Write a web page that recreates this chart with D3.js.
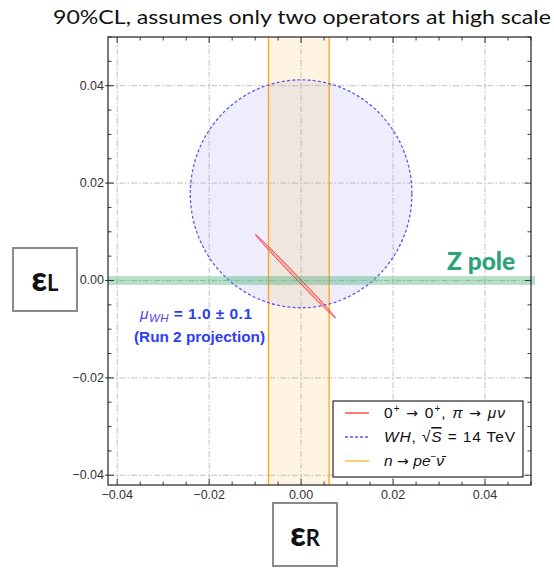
<!DOCTYPE html>
<html>
<head>
<meta charset="utf-8">
<script src="https://cdn.jsdelivr.net/npm/d3@7"></script>
<style>
  html, body { margin: 0; padding: 0; background: #fff; }
  svg { display: block; }
</style>
</head>
<body>
<svg id="chart" width="554" height="568"></svg>
<script>
// Axis domains (epsilon_R horizontal, epsilon_L vertical)
const xDomain = [-0.042, 0.05];
const yDomain = [-0.042, 0.05];
const majorTicks = [-0.04, -0.02, 0.00, 0.02, 0.04];
const minorStep = 0.005;
const tickLabels = ["\u22120.04", "\u22120.02", "0.00", "0.02", "0.04"];

// Neutron decay band in epsilon_R
const neutronBand = [-0.0071, 0.0061];
// Z-pole band in epsilon_L
const zPoleBand = [-0.0009, 0.0009];
// WH projection region: centre and semi-axes
const whCenter = [0.0, 0.0178];
const whRadii = [0.0241, 0.0234];
// Superallowed / pion constraint: end points of the thin ellipse
const betaEnds = [[-0.0099, 0.0094], [0.0075, -0.0077]];

const svg = d3.select("#chart");
const x = d3.scaleLinear().domain(xDomain).range([108, 531]);
const y = d3.scaleLinear().domain(yDomain).range([485, 37]);
const [x0, x1] = x.range();
const [y0, y1] = y.range();

const sans = "'Liberation Sans', Arial, Helvetica, sans-serif";
const arrowFont = "'DejaVu Sans', sans-serif";

// Title
svg.append("text")
  .attr("x", 53).attr("y", 24)
  .attr("textLength", 498).attr("lengthAdjust", "spacingAndGlyphs")
  .style("font-family", "Lato, 'Open Sans', sans-serif")
  .style("font-size", "20px").style("fill", "#111")
  .text("90%CL, assumes only two operators at high scale");

const plot = svg.append("g");
const clipId = "plotclip";
svg.append("defs").append("clipPath").attr("id", clipId)
  .append("rect").attr("x", x0).attr("y", y1).attr("width", x1 - x0).attr("height", y0 - y1);

const inner = plot.append("g").attr("clip-path", `url(#${clipId})`);

// WH region
inner.append("ellipse")
  .attr("cx", x(whCenter[0])).attr("cy", y(whCenter[1]))
  .attr("rx", x(whCenter[0] + whRadii[0]) - x(whCenter[0]))
  .attr("ry", y(whCenter[1]) - y(whCenter[1] + whRadii[1]))
  .attr("fill", "rgba(110,110,235,0.12)");

// Neutron band
inner.append("rect")
  .attr("x", x(neutronBand[0])).attr("y", y1)
  .attr("width", x(neutronBand[1]) - x(neutronBand[0])).attr("height", y0 - y1)
  .attr("fill", "rgba(255,185,70,0.16)");

// Grid lines
const grid = inner.append("g")
  .attr("stroke", "#b8b8b8").attr("stroke-width", 0.9)
  .attr("stroke-dasharray", "6,2,1.5,2").attr("fill", "none");
majorTicks.forEach(t => {
  grid.append("line").attr("x1", x(t)).attr("x2", x(t)).attr("y1", y1).attr("y2", y0);
  grid.append("line").attr("y1", y(t)).attr("y2", y(t)).attr("x1", x0).attr("x2", x1);
});

// Neutron band edges
neutronBand.forEach(v => {
  inner.append("line").attr("x1", x(v)).attr("x2", x(v)).attr("y1", y1).attr("y2", y0)
    .attr("stroke", "#ffa31a").attr("stroke-width", 1.3);
});

// WH boundary
inner.append("ellipse")
  .attr("cx", x(whCenter[0])).attr("cy", y(whCenter[1]))
  .attr("rx", x(whCenter[0] + whRadii[0]) - x(whCenter[0]))
  .attr("ry", y(whCenter[1]) - y(whCenter[1] + whRadii[1]))
  .attr("fill", "none").attr("stroke", "#5a5af0").attr("stroke-width", 1.3)
  .attr("stroke-dasharray", "3,2.2");

// Thin beta-decay ellipse
{
  const A = [x(betaEnds[0][0]), y(betaEnds[0][1])];
  const B = [x(betaEnds[1][0]), y(betaEnds[1][1])];
  const c = [(A[0] + B[0]) / 2, (A[1] + B[1]) / 2];
  const u = [(B[0] - A[0]) / 2, (B[1] - A[1]) / 2];
  const len = Math.hypot(u[0], u[1]);
  const hw = 1.5;
  const v = [-u[1] / len * hw, u[0] / len * hw];
  const pts = d3.range(0, 2 * Math.PI, Math.PI / 90).map(t =>
    [c[0] + Math.cos(t) * u[0] + Math.sin(t) * v[0], c[1] + Math.cos(t) * u[1] + Math.sin(t) * v[1]]);
  inner.append("path")
    .attr("d", d3.line().curve(d3.curveLinearClosed)(pts))
    .attr("fill", "rgba(255,110,110,0.35)").attr("stroke", "#ff2a2a").attr("stroke-width", 1);
}

// Z pole band (runs slightly past the frame)
plot.append("rect")
  .attr("x", x0).attr("y", y(zPoleBand[1]))
  .attr("width", x1 - x0 + 4).attr("height", y(zPoleBand[0]) - y(zPoleBand[1]))
  .attr("fill", "rgba(70,175,115,0.4)");

// Frame
plot.append("rect")
  .attr("x", x0).attr("y", y1).attr("width", x1 - x0).attr("height", y0 - y1)
  .attr("fill", "none").attr("stroke", "#222").attr("stroke-width", 1.2);

// Ticks on all four sides
const minorTicks = d3.range(-0.04, 0.0501, minorStep).map(v => +v.toFixed(4));
const tk = plot.append("g").attr("stroke", "#222").attr("stroke-width", 0.9);
minorTicks.forEach(t => {
  const isMajor = majorTicks.some(m => Math.abs(m - t) < 1e-6);
  const L = isMajor ? 6 : 3.5;
  const px = x(t), py = y(t);
  if (px >= x0 && px <= x1) {
    tk.append("line").attr("x1", px).attr("x2", px).attr("y1", y0).attr("y2", y0 - L);
    tk.append("line").attr("x1", px).attr("x2", px).attr("y1", y1).attr("y2", y1 + L);
  }
  if (py <= y0 && py >= y1) {
    tk.append("line").attr("y1", py).attr("y2", py).attr("x1", x0).attr("x2", x0 + L);
    tk.append("line").attr("y1", py).attr("y2", py).attr("x1", x1).attr("x2", x1 - L);
    if (isMajor) tk.append("line").attr("y1", py).attr("y2", py).attr("x1", x0).attr("x2", x0 - 3);
  }
});

// Tick labels
majorTicks.forEach((t, i) => {
  svg.append("text").attr("x", x(t)).attr("y", y0 + 14)
    .attr("text-anchor", "middle")
    .style("font-family", sans).style("font-size", "12.5px").style("fill", "#333")
    .text(tickLabels[i]);
  svg.append("text").attr("x", 104).attr("y", y(t) + 4)
    .attr("text-anchor", "end")
    .style("font-family", sans).style("font-size", "12.5px").style("fill", "#333")
    .text(tickLabels[i]);
});

// Z pole label
svg.append("text").attr("x", 447).attr("y", 270)
  .style("font-family", "Lato, 'Open Sans', sans-serif").style("font-weight", "900")
  .style("font-size", "24.5px").style("fill", "#2ca27a")
  .text("Z pole");

// WH annotation
const ann = svg.append("text").attr("x", 140).attr("y", 319)
  .attr("textLength", 112).attr("lengthAdjust", "spacing")
  .style("font-family", sans).style("font-size", "15.5px").style("fill", "#2c3ef2");
ann.append("tspan").style("font-style", "italic").style("fill", "#5a3cf0").text("\u03bc");
ann.append("tspan").attr("dy", 3).style("font-style", "italic").style("font-size", "11.5px").style("fill", "#5a3cf0").text("WH");
ann.append("tspan").attr("dy", -3).style("font-weight", "bold").text(" = 1.0 \u00b1 0.1");
svg.append("text").attr("x", 134).attr("y", 342)
  .attr("textLength", 131).attr("lengthAdjust", "spacingAndGlyphs")
  .style("font-family", sans).style("font-size", "14.8px").style("font-weight", "bold").style("fill", "#2c3ef2")
  .text("(Run 2 projection)");

// Legend
const leg = svg.append("g");
leg.append("rect").attr("x", 333).attr("y", 401).attr("width", 190).attr("height", 76)
  .attr("fill", "#fff").attr("stroke", "#111").attr("stroke-width", 1.1);
const rowY = [413, 437, 461];
const rowWidth = [121, 131, null];
const legStyles = [
  { stroke: "#ff3030", dash: null },
  { stroke: "#5a5af0", dash: "3,2" },
  { stroke: "#ffb030", dash: null }
];
rowY.forEach((ry, i) => {
  leg.append("line").attr("x1", 345).attr("x2", 369).attr("y1", ry).attr("y2", ry)
    .attr("stroke", legStyles[i].stroke).attr("stroke-width", 1.3)
    .attr("stroke-dasharray", legStyles[i].dash);
});

// Each legend label is a list of pieces: [text, options]
const legendLabels = [
  [["0"], ["+", { sup: true }], [" \u2192 ", { arrow: true }], ["0"], ["+", { sup: true }],
   [", "], ["\u03c0", { it: true }], [" \u2192 ", { arrow: true }], ["\u03bc\u03bd", { it: true }]],
  [["WH", { it: true }], [", \u221a"], ["S", { it: true, over: true }], [" = 14 TeV"]],
  [["n", { it: true }], [" \u2192 ", { arrow: true }], ["pe", { it: true }], ["\u2212", { sup: true }],
   ["\u03bd\u0304", { it: true }]]
];
legendLabels.forEach((pieces, i) => {
  const t = leg.append("text").attr("x", 384).attr("y", rowY[i] + 5)
    .style("font-family", sans).style("font-size", "15.5px").style("fill", "#111");
  if (rowWidth[i]) t.attr("textLength", rowWidth[i]).attr("lengthAdjust", "spacing");
  let raised = false;
  pieces.forEach(([str, o = {}]) => {
    const sp = t.append("tspan").text(str);
    if (o.sup && !raised) { sp.attr("dy", -6).style("font-size", "10px"); raised = true; }
    else if (!o.sup && raised) { sp.attr("dy", 6); raised = false; }
    if (o.it) sp.style("font-style", "italic");
    if (o.arrow) sp.style("font-family", arrowFont).style("font-size", "14px");
    if (o.over) sp.style("text-decoration", "overline");
  });
});

// Axis label boxes
function labelBox(bx, by, w, h, sub) {
  svg.append("rect").attr("x", bx).attr("y", by).attr("width", w).attr("height", h)
    .attr("fill", "#fff").attr("stroke", "#8a8a8a").attr("stroke-width", 2);
  const t = svg.append("text").attr("x", bx + w / 2).attr("y", by + h / 2 + 11)
    .attr("text-anchor", "middle")
    .style("font-family", "Lato, 'Open Sans', sans-serif").style("fill", "#111");
  t.append("tspan").style("font-size", "34px").style("font-weight", "900").text("\u03b5");
  t.append("tspan").style("font-size", "22px").style("font-weight", "bold").text(sub);
}
labelBox(13, 248, 64, 63, "L");
labelBox(273, 503, 64, 63, "R");
</script>
</body>
</html>
